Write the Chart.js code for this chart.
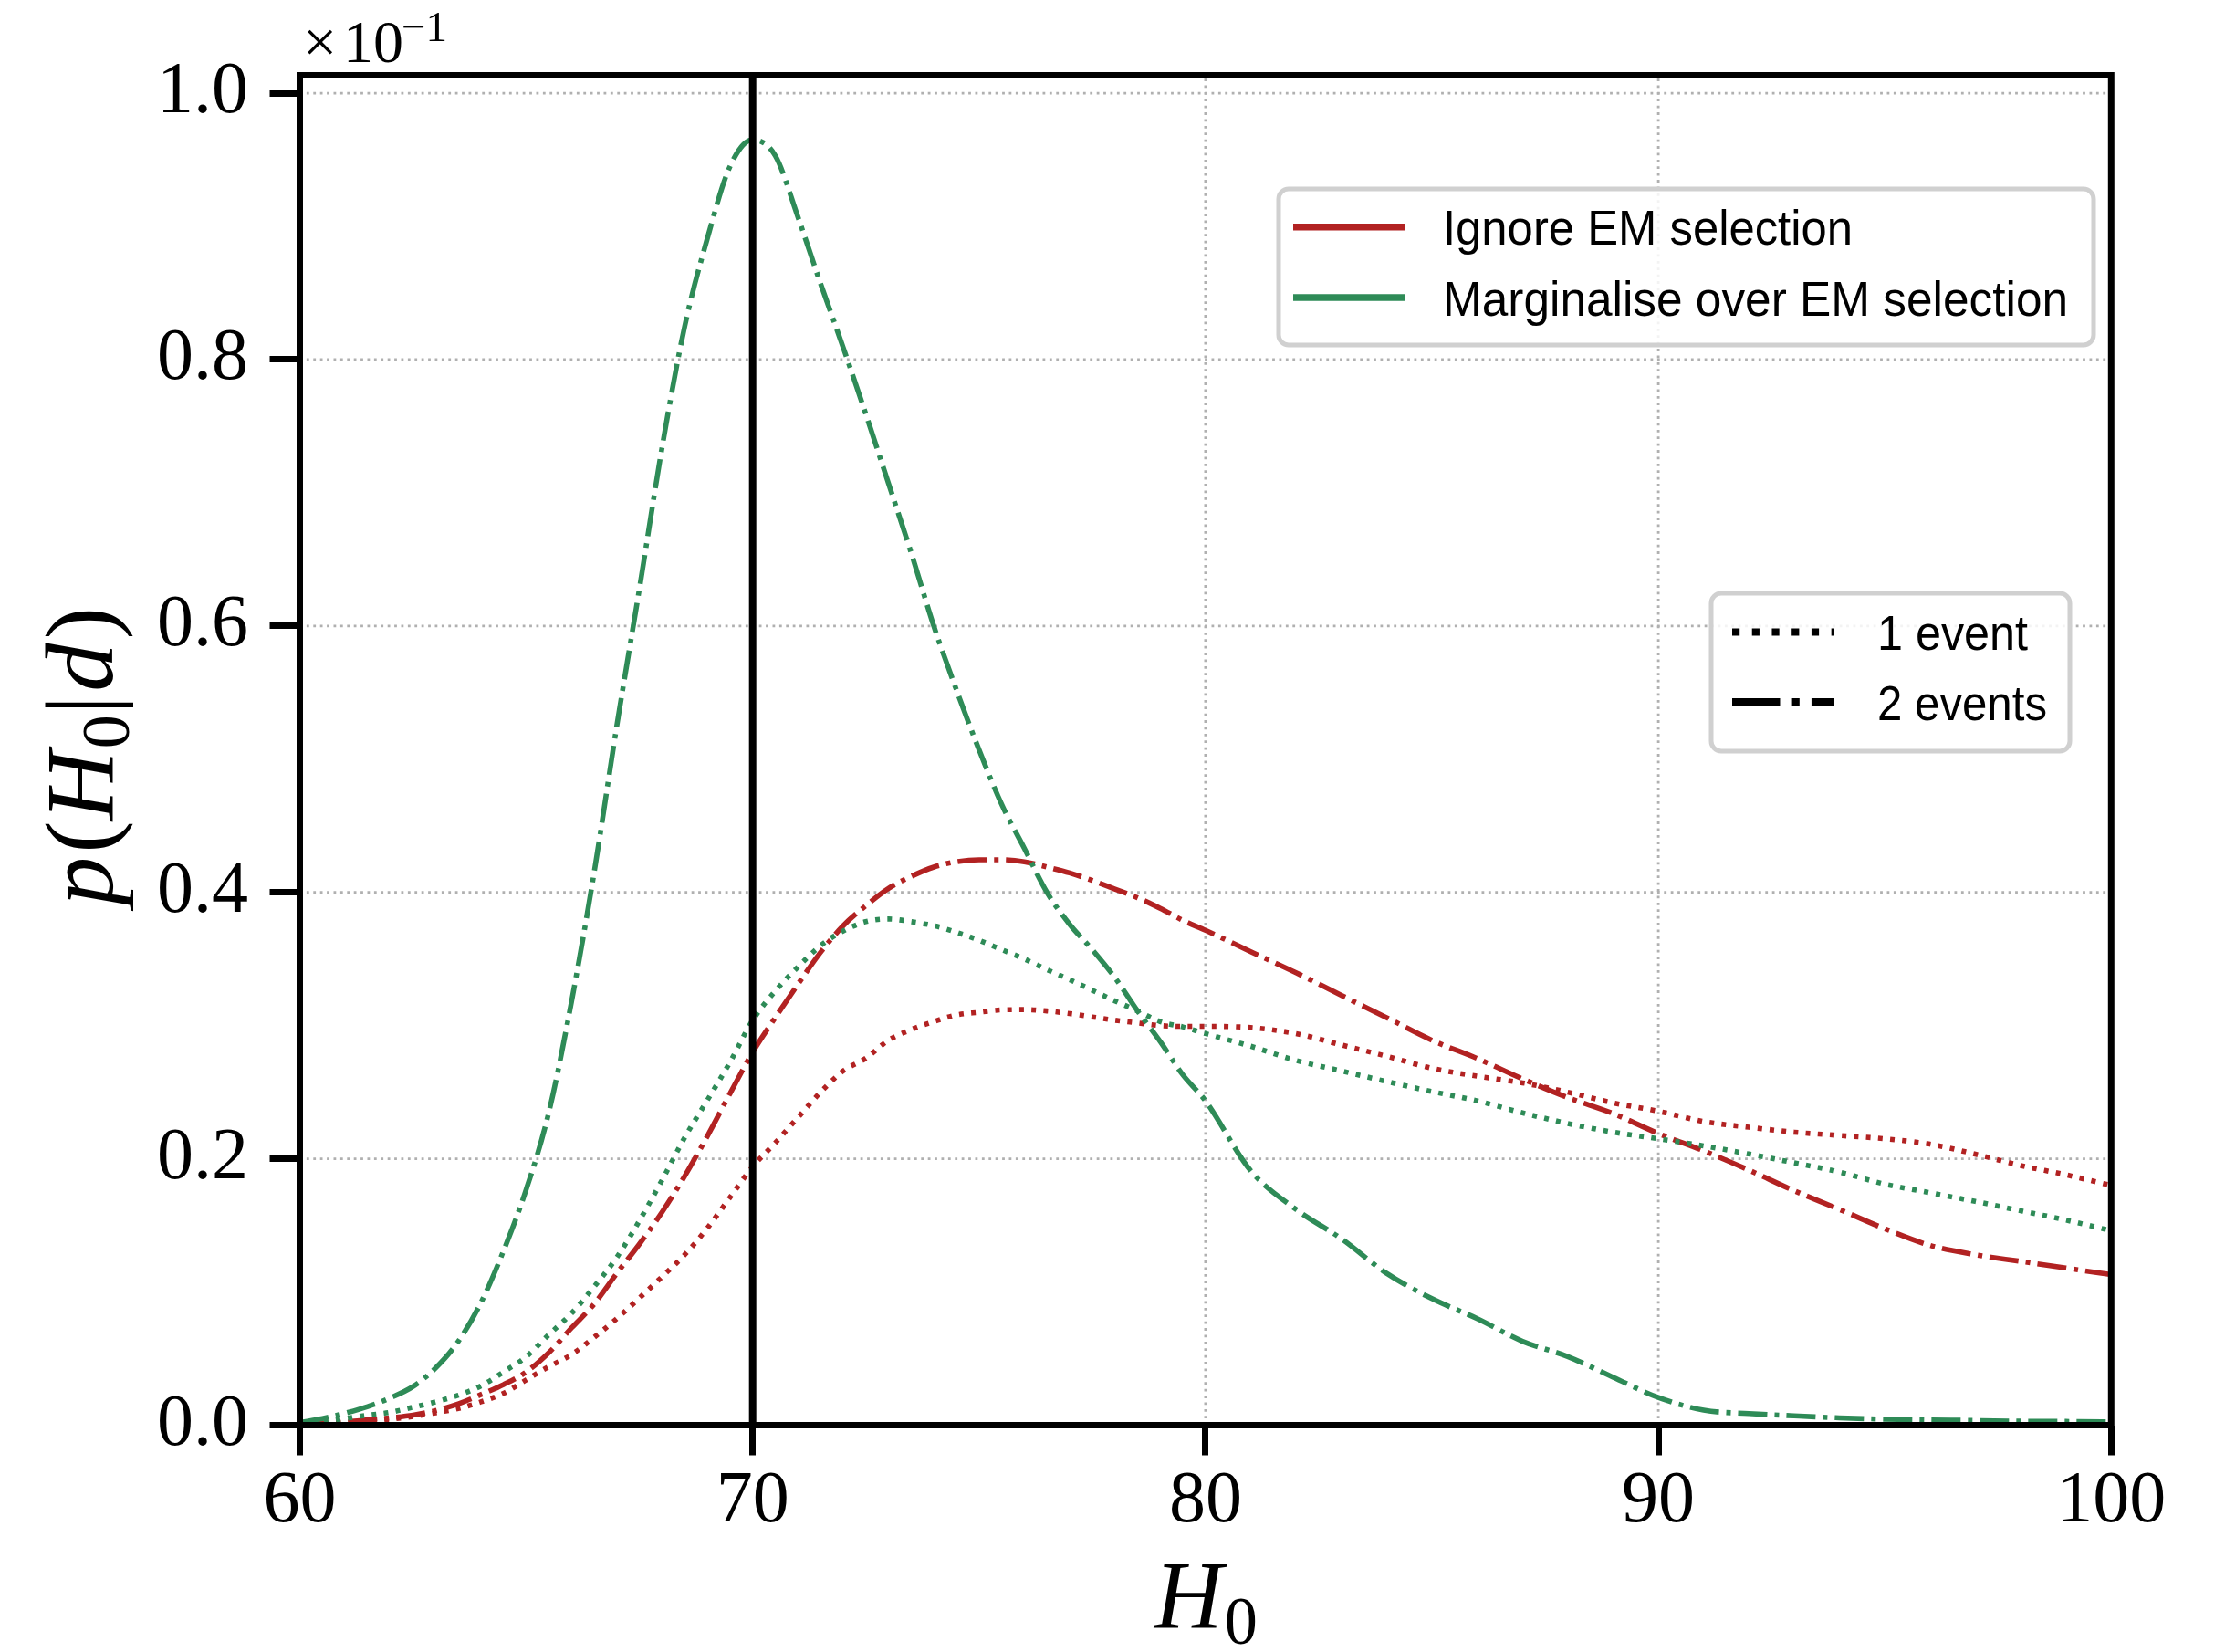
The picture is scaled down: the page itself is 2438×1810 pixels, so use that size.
<!DOCTYPE html>
<html>
<head>
<meta charset="utf-8">
<script src="https://cdn.jsdelivr.net/npm/chart.js@4.4.1/dist/chart.umd.min.js"></script>
<style>
html,body{margin:0;padding:0;background:#ffffff;}
#wrap{width:2438px;height:1810px;}
</style>
</head>
<body>
<div id="wrap"><canvas id="c" width="2438" height="1810"></canvas></div>
<script>
// ---------------- data ----------------
const h0Grid = [60,60.5,61,61.5,62,62.5,63,63.5,64,64.5,65,65.5,66,66.5,67,67.5,68,68.5,69,69.5,
  70,70.5,71,71.5,72,72.5,73,73.5,74,74.5,75,75.5,76,76.5,77,77.5,78,78.5,79,79.5,80,
  81,82,83,84,85,86,87,88,89,90,91,92,93,94,95,96,97,98,99,100];

// Ignore EM selection, 1 event (red dotted)
const ignoreOneEvent = [0.0005,0.001,0.0018,0.003,0.0045,0.0065,0.0093,0.0125,0.0175,0.024,
  0.034,0.044,0.053,0.066,0.080,0.0955,0.1115,0.128,0.148,0.171,
  0.194,0.212,0.231,0.250,0.266,0.2755,0.289,0.297,0.303,0.308,0.310,0.3118,0.312,0.311,0.309,0.3065,0.304,0.302,0.300,0.2994,0.2994,
  0.2985,0.294,0.2855,0.277,0.268,0.262,0.257,0.250,0.242,0.2357,0.228,0.2237,0.220,0.2175,0.215,0.211,0.2035,0.195,0.188,0.180];

// Ignore EM selection, 2 events (red dash-dot)
const ignoreTwoEvents = [0.001,0.0015,0.0025,0.004,0.0055,0.0075,0.011,0.016,0.023,0.0305,
  0.040,0.0545,0.073,0.091,0.114,0.136,0.160,0.187,0.217,0.249,
  0.280,0.306,0.331,0.355,0.375,0.390,0.403,0.412,0.419,0.423,0.4245,0.4245,0.423,0.419,0.4146,0.409,0.4025,0.396,0.388,0.379,0.3715,
  0.3555,0.3397,0.3227,0.306,0.289,0.2753,0.260,0.246,0.234,0.219,0.206,0.1915,0.176,0.162,0.1475,0.135,0.128,0.123,0.118,0.113];

// Marginalise over EM selection, 1 event (green dotted)
const margOneEvent = [0.001,0.0025,0.005,0.0075,0.0097,0.0135,0.0175,0.0225,0.0295,0.040,
  0.0515,0.068,0.084,0.104,0.126,0.1535,0.184,0.216,0.244,0.2725,
  0.304,0.326,0.344,0.360,0.371,0.378,0.380,0.378,0.375,0.370,0.364,0.357,0.350,0.342,0.3345,0.3265,0.3185,0.311,0.303,0.299,0.294,
  0.2845,0.2738,0.266,0.258,0.2505,0.2435,0.2345,0.2265,0.220,0.215,0.2097,0.2036,0.197,0.190,0.181,0.1745,0.168,0.161,0.154,0.146];

// Marginalise over EM selection, 2 events (green dash-dot)
const margTwoEvents = [0.002,0.005,0.009,0.014,0.0205,0.029,0.043,0.063,0.092,0.131,
  0.177,0.235,0.318,0.415,0.525,0.628,0.734,0.825,0.891,0.945,
  0.965,0.953,0.907,0.857,0.809,0.759,0.707,0.655,0.600,0.552,0.507,0.466,0.433,0.400,0.376,0.357,0.336,0.311,0.288,0.263,0.2435,
  0.191,0.162,0.140,0.114,0.095,0.080,0.063,0.0515,0.036,0.0208,0.0113,0.0087,0.007,0.0055,0.0045,0.004,0.0035,0.003,0.0028,0.0025];

const trueH0 = 70;
const xRange = [60, 100];
const yRange = [0, 1.0134];
const xTickValues = [60, 70, 80, 90, 100];
const xTickLabels = ['60', '70', '80', '90', '100'];
const yTickValues = [0, 0.2, 0.4, 0.6, 0.8, 1.0];
const yTickLabels = ['0.0', '0.2', '0.4', '0.6', '0.8', '1.0'];
const colorLegendLabels = ['Ignore EM selection', 'Marginalise over EM selection'];
const styleLegendLabels = ['1 event', '2 events'];
const offsetMantissa = '10';
const offsetExponent = '\u22121';

// ---------------- styles ----------------
const RED = '#b22222';
const GREEN = '#2e8b57';
const LW = 5.6;
const DU = 5;
const DOT = [DU, DU * 1.65];
const DASHDOT = [DU * 6.4, DU * 1.6, DU, DU * 1.6];
const SERIF = '"Liberation Serif", "DejaVu Serif", serif';
const SANS = '"Liberation Sans", "DejaVu Sans", sans-serif';

const toPoints = ys => h0Grid.map((x, i) => ({ x: x, y: ys[i] }));

function lineDs(ys, color, dash, order) {
  return {
    data: toPoints(ys), borderColor: color, borderWidth: LW, borderDash: dash,
    borderCapStyle: 'butt', borderJoinStyle: 'round', pointRadius: 0, fill: false,
    cubicInterpolationMode: 'monotone', order: order
  };
}

const datasets = [
  { data: [{ x: trueH0, y: yRange[0] }, { x: trueH0, y: yRange[1] }], borderColor: '#000000',
    borderWidth: 8, pointRadius: 0, fill: false, order: 0, borderCapStyle: 'butt' },
  lineDs(margTwoEvents, GREEN, DASHDOT, 1),
  lineDs(margOneEvent, GREEN, DOT, 2),
  lineDs(ignoreTwoEvents, RED, DASHDOT, 3),
  lineDs(ignoreOneEvent, RED, DOT, 4)
];

function roundRect(ctx, x, y, w, h, r) {
  ctx.beginPath();
  ctx.moveTo(x + r, y);
  ctx.lineTo(x + w - r, y);
  ctx.arcTo(x + w, y, x + w, y + r, r);
  ctx.lineTo(x + w, y + h - r);
  ctx.arcTo(x + w, y + h, x + w - r, y + h, r);
  ctx.lineTo(x + r, y + h);
  ctx.arcTo(x, y + h, x, y + h - r, r);
  ctx.lineTo(x, y + r);
  ctx.arcTo(x, y, x + r, y, r);
  ctx.closePath();
}

function drawRich(ctx, pieces, x, y, targetWidth, rotated) {
  ctx.save();
  let total = 0;
  pieces.forEach(p => { ctx.font = p.font; total += ctx.measureText(p.t).width + (p.gap || 0); });
  const s = targetWidth ? targetWidth / total : 1;
  ctx.translate(x, y);
  if (rotated) ctx.rotate(-Math.PI / 2);
  ctx.scale(s, 1);
  ctx.fillStyle = '#000';
  ctx.textAlign = 'left';
  ctx.textBaseline = 'alphabetic';
  let cx = 0;
  pieces.forEach(p => {
    ctx.font = p.font;
    ctx.fillText(p.t, cx, p.dy || 0);
    cx += ctx.measureText(p.t).width + (p.gap || 0);
  });
  ctx.restore();
}

const decor = {
  id: 'decor',
  beforeDatasetsDraw(chart) {
    const ctx = chart.ctx, a = chart.chartArea;
    const xs = chart.scales.x, ys = chart.scales.y;
    ctx.save();
    ctx.strokeStyle = '#b0b0b0';
    ctx.lineWidth = 2.8;
    ctx.setLineDash([2.8, 4.6]);
    ctx.lineCap = 'butt';
    xTickValues.forEach(v => {
      const px = xs.getPixelForValue(v);
      ctx.beginPath(); ctx.moveTo(px, a.bottom); ctx.lineTo(px, a.top); ctx.stroke();
    });
    yTickValues.forEach(v => {
      const py = ys.getPixelForValue(v);
      ctx.beginPath(); ctx.moveTo(a.left, py); ctx.lineTo(a.right, py); ctx.stroke();
    });
    ctx.restore();
  },
  afterDatasetsDraw(chart) {
    const ctx = chart.ctx, a = chart.chartArea;
    ctx.save();
    // frame
    ctx.setLineDash([]);
    ctx.strokeStyle = '#000';
    ctx.lineWidth = 7;
    ctx.lineJoin = 'miter';
    ctx.strokeRect(a.left, a.top, a.right - a.left, a.bottom - a.top);

    // legend 1 (colours)
    roundRect(ctx, 1401, 207, 893, 171, 11);
    ctx.fillStyle = 'rgba(255,255,255,0.85)';
    ctx.fill();
    ctx.lineWidth = 5;
    ctx.strokeStyle = '#d0d0d0';
    ctx.stroke();
    const leg1Colors = [RED, GREEN];
    const leg1LineY = [248.7, 326];
    const leg1Base = [268.3, 345.5];
    const leg1Widths = [449, 685];
    colorLegendLabels.forEach((lab, i) => {
      ctx.beginPath();
      ctx.setLineDash([]);
      ctx.lineCap = 'butt';
      ctx.strokeStyle = leg1Colors[i];
      ctx.lineWidth = 7.5;
      ctx.moveTo(1417, leg1LineY[i]); ctx.lineTo(1539, leg1LineY[i]);
      ctx.stroke();
      ctx.fillStyle = '#000';
      ctx.font = '54px ' + SANS;
      ctx.textAlign = 'left';
      ctx.textBaseline = 'alphabetic';
      ctx.fillText(lab, 1581, leg1Base[i], leg1Widths[i]);
    });

    // legend 2 (line styles)
    roundRect(ctx, 1875, 650, 393, 173, 11);
    ctx.setLineDash([]);
    ctx.fillStyle = 'rgba(255,255,255,0.85)';
    ctx.fill();
    ctx.lineWidth = 5;
    ctx.strokeStyle = '#d0d0d0';
    ctx.stroke();
    const lw2 = 8.2;
    const leg2Dash = [[lw2, lw2 * 1.65], [lw2 * 6.4, lw2 * 1.6, lw2, lw2 * 1.6]];
    const leg2LineY = [692.5, 769];
    const leg2Base = [711.7, 788.5];
    const leg2Widths = [165, 186];
    styleLegendLabels.forEach((lab, i) => {
      ctx.save();
      ctx.beginPath();
      ctx.rect(1898, leg2LineY[i] - 10, 112, 20);
      ctx.clip();
      ctx.beginPath();
      ctx.setLineDash(leg2Dash[i]);
      ctx.lineCap = 'butt';
      ctx.strokeStyle = '#000';
      ctx.lineWidth = lw2;
      ctx.moveTo(1898, leg2LineY[i]); ctx.lineTo(2030, leg2LineY[i]);
      ctx.stroke();
      ctx.restore();
      ctx.fillStyle = '#000';
      ctx.font = '54px ' + SANS;
      ctx.textAlign = 'left';
      ctx.textBaseline = 'alphabetic';
      ctx.fillText(lab, 2057, leg2Base[i], leg2Widths[i]);
    });
    ctx.restore();
  },
  afterDraw(chart) {
    const ctx = chart.ctx;
    ctx.save();
    ctx.fillStyle = '#000';
    ctx.textAlign = 'left';
    ctx.textBaseline = 'alphabetic';
    // offset text  x10^-1
    ctx.font = '66px ' + SERIF;
    ctx.fillText('\u00d7', 332, 68);
    ctx.fillText(offsetMantissa, 376, 68);
    ctx.font = '47px ' + SERIF;
    ctx.fillText(offsetExponent, 440, 45);
    ctx.restore();

    const it = 'italic 106px ' + SERIF;
    const rm = '106px ' + SERIF;
    const sub = '74px ' + SERIF;
    // x title  H_0
    drawRich(ctx, [
      { t: 'H', font: it, gap: 2 },
      { t: '0', font: sub, dy: 18 }
    ], 1265, 1783, 113, false);
    // y title  p(H_0|d)
    drawRich(ctx, [
      { t: 'p', font: it, gap: 4 },
      { t: '(', font: rm },
      { t: 'H', font: it, gap: 2 },
      { t: '0', font: sub, dy: 18 },
      { t: '|', font: rm, gap: 4 },
      { t: 'd', font: it, gap: 4 },
      { t: ')', font: rm }
    ], 123, 992, 327, true);
  }
};

const tickFont = { family: SERIF, size: 80, lineHeight: 1 };

new Chart(document.getElementById('c').getContext('2d'), {
  type: 'line',
  data: { datasets: datasets },
  plugins: [decor],
  options: {
    responsive: false,
    animation: false,
    devicePixelRatio: 1,
    events: [],
    layout: { padding: { top: 82.5, right: 124.7, left: 0, bottom: 0 } },
    plugins: { legend: { display: false }, tooltip: { enabled: false }, title: { display: false } },
    scales: {
      x: {
        type: 'linear', min: xRange[0], max: xRange[1],
        afterFit: s => { s.height = 248.5; },
        afterBuildTicks: s => { s.ticks = xTickValues.map(v => ({ value: v })); },
        grid: { display: true, drawOnChartArea: false, drawTicks: true, tickLength: 33, tickWidth: 7, tickColor: '#000', color: '#000' },
        border: { display: false },
        ticks: { color: '#000', font: tickFont, padding: 11, maxRotation: 0, minRotation: 0, autoSkip: false,
                 callback: (v, i) => xTickLabels[i] }
      },
      y: {
        type: 'linear', min: yRange[0], max: yRange[1],
        afterFit: s => { s.width = 328.5; },
        afterBuildTicks: s => { s.ticks = yTickValues.map(v => ({ value: v })); },
        grid: { display: true, drawOnChartArea: false, drawTicks: true, tickLength: 33, tickWidth: 7, tickColor: '#000', color: '#000' },
        border: { display: false },
        ticks: { color: '#000', font: tickFont, padding: 23.5, autoSkip: false,
                 callback: (v, i) => yTickLabels[i] }
      }
    }
  }
});
</script>
</body>
</html>
